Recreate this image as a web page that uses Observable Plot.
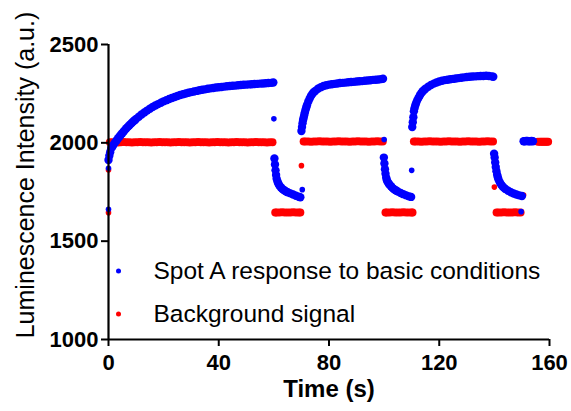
<!DOCTYPE html>
<html><head><meta charset="utf-8">
<script src="https://cdn.jsdelivr.net/npm/d3@7"></script>
<script src="https://cdn.jsdelivr.net/npm/@observablehq/plot@0.6"></script>
<style>body{margin:0;background:#fff}</style>
</head><body><div id="chart"></div>
<script>
const xTicks = [0, 40, 80, 120, 160];
const yTicks = [1000, 1500, 2000, 2500];
const xTitle = "Time (s)";
const yTitle = "Luminescence Intensity (a.u.)";
const seriesNames = ["Spot A response to basic conditions", "Background signal"];
const seriesColors = ["#0000ff", "#ff0000"];

// Spot A response: [time (s), intensity]
const spotSingles = [[0,1662],[0,1871],[60.0,2122],[70.3,1762],[100.0,2017],[110.0,1860],[149.7,1650]];
const spotRise1 = [[0,1913],[0.3,1934],[0.6,1952],[1,1972],[1.5,1983],[2,1994],[2.5,2004],[3,2013],[3.5,2023],[4,2032],[4.5,2041],[5,2049],[5.5,2058],[6,2066],[6.5,2074],[7,2081],[7.5,2088],[8,2095],[8.5,2102],[9,2109],[9.5,2115],[10,2121],
  [11,2133],[12,2144],[13,2154],[14,2164],[15,2173],[16,2182],[17,2190],[18,2197],[19,2204],[20,2211],
  [21,2217],[22,2223],[23,2228],[24,2233],[25,2238],[26,2243],[27,2247],[28,2251],[29,2255],[30,2258],
  [31,2261],[32,2264],[33,2267],[34,2270],[35,2272],[36,2275],[37,2277],[38,2279],[39,2281],[40,2283],
  [41,2284],[42,2286],[43,2288],[44,2289],[45,2290],[46,2291],[47,2293],[48,2294],[49,2295],[50,2296],
  [51,2297],[52,2298],[53,2299],[54,2300],[55,2301],[56,2302],[57,2303],[58,2304],[59,2305],[59.8,2307]];
const spotDecay1 = [[60.2,1920],[60.4,1890],[60.6,1860],[60.8,1836],[61,1818],[61.3,1803],[61.6,1793],[62,1783],
  [62.5,1774],[63,1767],[63.5,1761],[64,1756],[64.5,1752],[65,1749],[66,1743],[67,1737],[68,1731],[69,1726],[69.6,1723]];
const spotRise2 = [[70.0,2060],[70.2,2080],[70.4,2100],[70.6,2116],[70.8,2128],[71,2140],[71.25,2154],[71.5,2168],[71.75,2180],
  [72,2191],[72.5,2210],[73,2226],[73.5,2239],[74,2250],[74.5,2258],[75,2264],[76,2275],[77,2283],[78,2289],[79,2293],
  [80,2296],[81,2298],[82,2300],[83,2302],[84,2304],[85,2305],[86,2306],[87,2308],[88,2309],[89,2310],[90,2312],
  [91,2313],[92,2314],[93,2316],[94,2317],[95,2318],[96,2320],[97,2321],[98,2322],[99,2324],[99.6,2326]];
const spotDecay2 = [[99.9,1925],[100.1,1895],[100.3,1866],[100.5,1843],[100.75,1822],[101,1810],[101.3,1801],
  [101.7,1792],[102,1787],[102.5,1779],[103,1771],[103.5,1765],[104,1760],[104.5,1756],[105,1752],[106,1745],
  [107,1739],[108,1733],[109,1728],[109.8,1725]];
const spotRise3 = [[110.2,2080],[110.4,2105],[110.6,2130],[110.8,2160],[111,2175],[111.3,2190],[111.6,2202],[112,2216],
  [112.5,2230],[113,2242],[113.5,2253],[114,2262],[114.5,2269],[115,2275],[116,2285],[117,2294],[118,2301],[119,2307],
  [120,2312],[121,2316],[122,2319],[123,2321],[124,2323],[125,2325],[126,2327],[127,2329],[128,2331],[129,2333],
  [130,2335],[131,2336],[132,2337],[133,2338],[134,2339],[135,2340],[136,2340],[137,2341],[138,2340],[139,2338],[139.6,2336]];
const spotDecay3 = [[139.9,1945],[140.1,1925],[140.3,1900],[140.5,1877],[140.75,1856],[141,1838],[141.25,1825],[141.5,1814],
  [142,1798],[142.5,1787],[143,1778],[143.5,1771],[144,1765],[145,1756],[146,1749],[147,1742],[148,1737],[149,1733],[150,1730]];
const spotEnd = [[150.6,2008],[151,2008],[151.5,2009],[152,2009],[152.5,2008],[153,2008],[153.5,2009],[154,2008]];

// Background signal: [time (s), intensity]
const bgSingles = [[0,1645],[0,1862],[70.0,1884],[140.0,1775],[150.6,1735]];
const bgHigh1 = [[0.5,2003],[1.5,2003],[2.5,2003],[3.5,2002],[4.5,2003],[5.5,2004],[6.5,2003],[7.5,2003],[8.5,2002],[9.5,2003],
  [10.5,2003],[11.5,2004],[12.5,2003],[13.5,2003],[14.5,2003],[15.5,2002],[16.5,2003],[17.5,2003],[18.5,2004],[19.5,2003],
  [20.5,2003],[21.5,2003],[22.5,2002],[23.5,2003],[24.5,2003],[25.5,2004],[26.5,2003],[27.5,2003],[28.5,2003],[29.5,2002],
  [30.5,2003],[31.5,2003],[32.5,2004],[33.5,2003],[34.5,2003],[35.5,2003],[36.5,2002],[37.5,2003],[38.5,2003],[39.5,2004],
  [40.5,2003],[41.5,2003],[42.5,2003],[43.5,2002],[44.5,2003],[45.5,2003],[46.5,2004],[47.5,2003],[48.5,2003],[49.5,2003],
  [50.5,2002],[51.5,2003],[52.5,2003],[53.5,2004],[54.5,2003],[55.5,2003],[56.5,2003],[57.5,2002],[58.5,2003],[59.5,2003]];
const bgLow1 = [[60.5,1646],[61,1646],[62,1646],[63,1647],[64,1646],[65,1646],[66,1646],[67,1647],[68,1646],[69,1646],[69.6,1646]];
const bgHigh2 = [[70.8,2007],[71.5,2007],[72.5,2007],[73.5,2006],[74.5,2007],[75.5,2007],[76.5,2008],[77.5,2007],[78.5,2007],[79.5,2007],
  [80.5,2006],[81.5,2007],[82.5,2007],[83.5,2008],[84.5,2007],[85.5,2007],[86.5,2007],[87.5,2006],[88.5,2007],[89.5,2007],
  [90.5,2008],[91.5,2007],[92.5,2007],[93.5,2007],[94.5,2006],[95.5,2007],[96.5,2007],[97.5,2008],[98.5,2007],[99.5,2007]];
const bgLow2 = [[100.5,1646],[101,1646],[102,1646],[103,1647],[104,1646],[105,1646],[106,1646],[107,1647],[108,1646],[109,1646],[110,1646],[110.3,1646]];
const bgHigh3 = [[110.8,2007],[111.5,2007],[112.5,2007],[113.5,2006],[114.5,2007],[115.5,2007],[116.5,2008],[117.5,2007],[118.5,2007],[119.5,2007],
  [120.5,2006],[121.5,2007],[122.5,2007],[123.5,2008],[124.5,2007],[125.5,2007],[126.5,2007],[127.5,2006],[128.5,2007],[129.5,2007],
  [130.5,2008],[131.5,2007],[132.5,2007],[133.5,2007],[134.5,2006],[135.5,2007],[136.5,2007],[137.5,2008],[138.5,2007],[139.5,2007]];
const bgLow3 = [[140.8,1646],[141.5,1646],[142.5,1646],[143.5,1647],[144.5,1646],[145.5,1646],[146.5,1646],[147.5,1647],[148.5,1646],[149.5,1646]];
const bgEnd = [[155.8,2005],[156.5,2005],[157,2005],[157.5,2006],[158,2005],[158.5,2005],[159,2005],[159.5,2005]];

const spotBand = [].concat(spotRise1, spotDecay1, spotRise2, spotDecay2, spotRise3, spotDecay3, spotEnd);
const bgBand = [].concat(bgHigh1, bgLow1, bgHigh2, bgLow2, bgHigh3, bgLow3, bgEnd);

const chart = Plot.plot({
  width: 571,
  height: 411,
  marginLeft: 108,
  marginRight: 22,
  marginTop: 44,
  marginBottom: 72,
  style: {fontFamily: "'Liberation Sans', Arial, sans-serif", fontSize: "22px", fontWeight: "bold", background: "#fff", color: "#000"},
  x: {domain: [0, 160]},
  y: {domain: [1000, 2500]},
  marks: [
    Plot.dot(bgBand, {x: d => d[0], y: d => d[1], r: 4, fill: seriesColors[1]}),
    Plot.dot(bgSingles, {x: d => d[0], y: d => d[1], r: 2.8, fill: seriesColors[1]}),
    Plot.dot(spotBand, {x: d => d[0], y: d => d[1], r: 4.2, fill: seriesColors[0]}),
    Plot.dot(spotSingles, {x: d => d[0], y: d => d[1], r: 2.8, fill: seriesColors[0]}),
    Plot.ruleX([0], {y1: 1000, y2: 2500, strokeWidth: 2.2}),
    Plot.ruleY([1000], {x1: 0, x2: 160, strokeWidth: 2.2}),
    Plot.axisX({ticks: xTicks, tickFormat: d => String(d), tickSize: 7, tickPadding: 8, strokeWidth: 2, label: null}),
    Plot.axisY({ticks: yTicks, tickFormat: d => String(d), tickSize: 7, tickPadding: 3, strokeWidth: 2, label: null}),
    Plot.text([xTitle], {frameAnchor: "bottom", dy: 57, text: d => d, fontWeight: "bold", fontSize: 24}),
    Plot.text([yTitle], {frameAnchor: "left", dx: -83, dy: -17, rotate: -90, textAnchor: "middle", text: d => d, fontWeight: "normal", fontSize: 25}),
    Plot.dot([0], {frameAnchor: "left", dx: 10, dy: 79, r: 2.5, fill: seriesColors[0]}),
    Plot.dot([0], {frameAnchor: "left", dx: 10, dy: 122, r: 2.5, fill: seriesColors[1]}),
    Plot.text([seriesNames[0]], {frameAnchor: "left", dx: 45, dy: 79, text: d => d, textAnchor: "start", fontWeight: "normal", fontSize: 24.5}),
    Plot.text([seriesNames[1]], {frameAnchor: "left", dx: 45, dy: 122, text: d => d, textAnchor: "start", fontWeight: "normal", fontSize: 24.5})
  ]
});
document.getElementById("chart").appendChild(chart);
</script>
</body></html>
